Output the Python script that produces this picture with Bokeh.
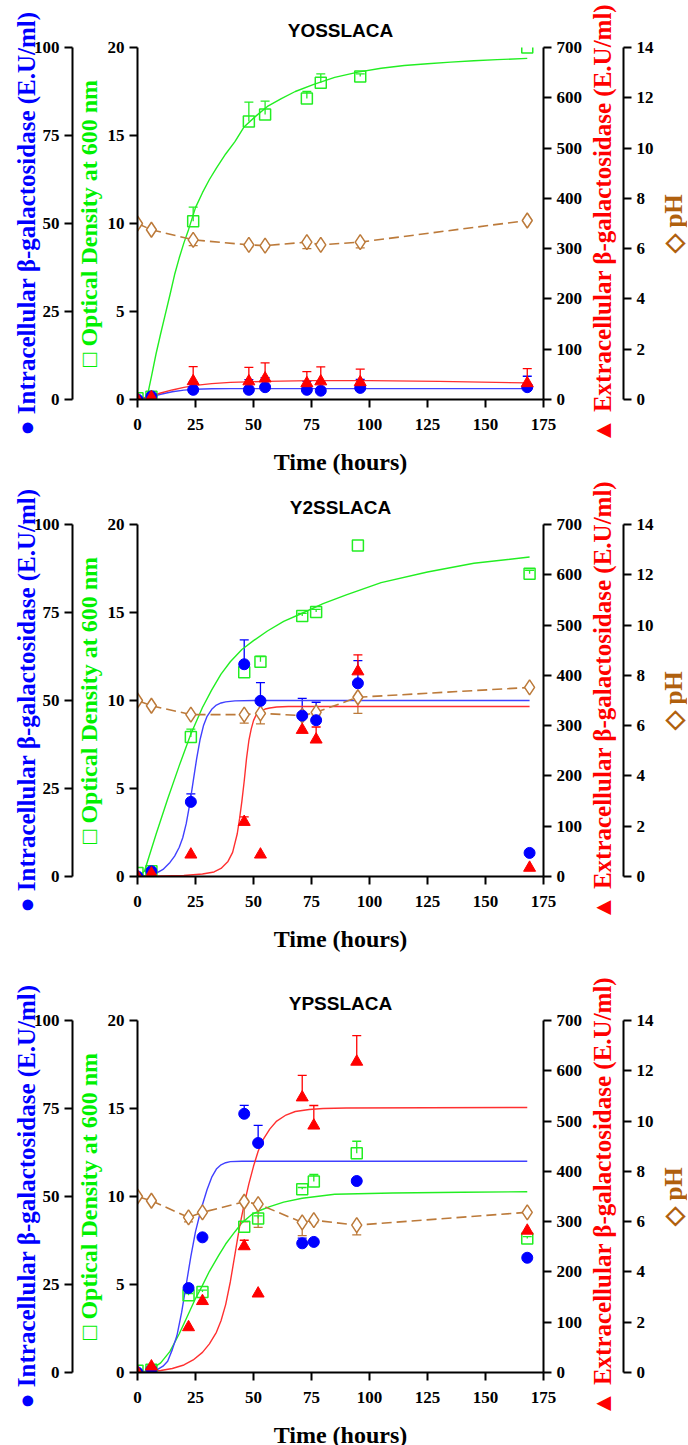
from bokeh.plotting import figure
from bokeh.models import Range1d, LinearAxis, FixedTicker, Whisker, TeeHead, ColumnDataSource
from bokeh.layouts import column, row
from bokeh.embed import file_html
from bokeh.resources import INLINE

# ---------------- YOSSLACA ----------------
time_1 = [0, 6, 24, 48, 55, 73, 79, 96, 168]
intra_1 = [0, 0.9, 2.75, 2.75, 3.5, 2.75, 2.5, 3.3, 3.5]
intra_err_1 = [0, 0, 2.2, 2.9, 2.7, 2.4, 2.5, 2.4, 3.1]
od_1 = [0.07, 0.15, 10.13, 15.8, 16.2, 17.1, 18.0, 18.35, 20.0]
od_err_1 = [0, 0, 0.8, 1.1, 0.75, 0.4, 0.5, 0.15, 0]
extra_1 = [0, 4.6, 36.4, 36, 41.8, 32.4, 36, 34.4, 32.4]
extra_err_1 = [0, 0, 29, 28, 31, 23, 29, 26, 29]
ph_1 = [7.0, 6.75, 6.35, 6.15, 6.12, 6.26, 6.15, 6.26, 7.12]
ph_err_1 = [0, 0, 0.23, 0.08, 0.08, 0.26, 0.05, 0.23, 0]

fit_od_t_1 = [0, 4, 6, 8, 10, 12, 14, 16, 18, 20, 22, 25, 28, 31, 34, 38, 42, 46, 51, 56,
              62, 68, 76, 85, 95, 105, 115, 125, 135, 145, 155, 168]
fit_od_1 = [0, 0.05, 1.3, 2.6, 3.75, 4.85, 5.95, 7.1, 8.05, 8.9, 9.65, 10.9, 11.75, 12.5,
            13.15, 13.95, 14.65, 15.5, 16.1, 16.65, 17.1, 17.5, 17.9, 18.3, 18.6, 18.82,
            18.98, 19.08, 19.17, 19.25, 19.31, 19.38]
fit_intra_t_1 = [0, 5, 10, 15, 20, 25, 32, 40, 168]
fit_intra_1 = [0, 0.6, 1.5, 2.2, 2.65, 2.9, 3.05, 3.1, 3.1]
fit_extra_t_1 = [0, 5, 10, 15, 20, 25, 32, 40, 55, 75, 100, 130, 168]
fit_extra_1 = [0, 6, 13, 19, 24, 28, 31.5, 34, 36, 37.5, 37.5, 36, 33]

# ---------------- Y2SSLACA ----------------
time_2 = [0, 6, 23, 46, 53, 71, 77, 95, 169]
intra_2 = [0, 1.5, 21.2, 60.3, 49.9, 45.7, 44.4, 54.9, 6.7]
intra_err_2 = [0, 0, 2.3, 6.9, 5.2, 4.9, 5.1, 6.4, 0]
od_2 = [0.2, 0.3, 7.92, 11.6, 12.2, 14.8, 15.03, 18.8, 17.2]
od_err_2 = [0, 0, 0.45, 0, 0.3, 0.15, 0.15, 0, 0.2]
extra_2 = [0, 6, 43.6, 108.5, 43.6, 291.5, 272.3, 407.9, 17.3]
extra_err_2 = [0, 0, 0, 10, 0, 0, 25, 33, 0]
ph_2 = [7.0, 6.79, 6.44, 6.44, 6.49, 6.4, 6.53, 7.13, 7.52]
ph_err_2 = [0, 0, 0, 0.34, 0.42, 0.1, 0.1, 0.64, 0]

fit_od_t_2 = [0, 3, 8, 13, 18, 23, 28, 32, 36, 40, 45, 50, 56, 63, 70, 80, 90, 105, 125, 145, 169]
fit_od_2 = [0, 0.3, 2.4, 4.4, 6.3, 8.1, 9.6, 10.6, 11.5, 12.2, 12.9, 13.4, 13.95, 14.5,
            14.9, 15.5, 16.0, 16.7, 17.3, 17.8, 18.15]
fit_intra_t_2 = [0, 5, 8, 11, 14, 16, 18, 19.5, 21, 22.5, 24, 25.5, 27, 28.5, 30, 32, 34, 36,
                 38, 42, 50, 169]
fit_intra_2 = [0, 0.3, 0.9, 2.0, 4.0, 5.8, 8.3, 11.0, 15.0, 20.5, 27, 33.5, 39, 43, 45.5,
               47.5, 48.7, 49.3, 49.6, 49.9, 50, 50]
fit_extra_t_2 = [0, 20, 28, 33, 36, 39, 41, 43, 44, 45, 46, 47, 48, 49, 50, 51, 53, 55, 57,
                 60, 65, 70, 169]
fit_extra_2 = [0, 2, 5, 9, 16, 30, 48, 85, 115, 150, 190, 235, 270, 293, 310, 320, 329, 333,
               335, 337, 338, 338, 338]

# ---------------- YPSSLACA ----------------
time_3 = [0, 6, 22, 28, 46, 52, 71, 76, 94.5, 168]
intra_3 = [0, 0.8, 24.0, 38.4, 73.5, 65.2, 36.7, 37.1, 54.4, 32.6]
intra_err_3 = [0, 0, 0, 0, 2.4, 5.0, 1.5, 0, 0, 0]
od_3 = [0.1, 0.15, 4.39, 4.58, 8.28, 8.75, 10.41, 10.85, 12.46, 7.62]
od_err_3 = [0, 0, 0.1, 0.1, 0, 0.15, 0.1, 0.4, 0.68, 0.1]
extra_3 = [0, 12, 90, 142, 251, 157, 547, 491, 618, 282]
extra_err_3 = [0, 0, 0, 0, 12, 0, 44, 40, 52, 0]
ph_3 = [7.0, 6.83, 6.17, 6.37, 6.79, 6.7, 5.97, 6.06, 5.86, 6.37]
ph_err_3 = [0, 0, 0.18, 0.05, 0.8, 0.93, 0.53, 0.1, 0.39, 0]

fit_od_t_3 = [0, 5, 10, 14, 18, 21, 25, 28, 31, 35, 38, 42, 45, 49, 53, 57, 63, 71, 85,
              110, 140, 168]
fit_od_3 = [0, 0.1, 0.55, 1.2, 2.2, 3.05, 4.2, 4.95, 5.75, 6.65, 7.3, 8.0, 8.5, 8.95, 9.22,
            9.42, 9.68, 9.9, 10.13, 10.2, 10.24, 10.27]
fit_intra_t_3 = [0, 5, 8, 11, 13, 15, 17, 19, 21, 23, 25, 27.5, 30, 32, 34, 36, 38, 40, 45, 168]
fit_intra_3 = [0, 0.2, 0.6, 1.8, 3.2, 6.5, 10.5, 17, 25, 33, 40, 46.6, 52, 55.5, 57.8, 59.0,
               59.6, 59.9, 60, 60]
fit_extra_t_3 = [0, 5, 10, 15, 20, 24, 28, 31, 34, 36, 38, 40, 42, 44, 46, 48, 50, 52, 54,
                 57, 60, 64, 68, 74, 80, 90, 168]
fit_extra_3 = [0, 1, 4, 8, 15, 25, 40, 57, 80, 103, 135, 180, 235, 290, 335, 375, 410, 440,
               462, 484, 500, 512, 519, 523, 525, 526, 527]

x_ticks = [0, 25, 50, 75, 100, 125, 150, 175]
od_ticks = [0, 5, 10, 15, 20]
intra_ticks = [0, 25, 50, 75, 100]
extra_ticks = [0, 100, 200, 300, 400, 500, 600, 700]
ph_ticks = [0, 2, 4, 6, 8, 10, 12, 14]

BLUE = "#0000FF"
BLUE_LINE = "#4040FF"
GREEN = "#22EE22"
GREEN_LABEL = "#00F000"
RED = "#FF0000"
RED_LINE = "#FF3030"
BROWN = "#BC7A3A"
BROWN_LABEL = "#B0600E"

SERIF = "Liberation Serif"
FRAME_LEFT, FRAME_TOP, FRAME_W, FRAME_H = 137, 47, 406, 352
PH_AXIS_X = 620      # x of the pH axis line
PH_TITLE_X = 680     # right edge of the pH title box


def style_axis(ax, label_color):
    ax.axis_line_width = 2
    ax.axis_line_color = "black"
    ax.major_tick_line_width = 2
    ax.major_tick_line_color = "black"
    ax.major_tick_out = 8
    ax.major_tick_in = 0
    ax.minor_tick_out = 0
    ax.minor_tick_in = 0
    ax.major_label_text_font = SERIF
    ax.major_label_text_font_style = "bold"
    ax.major_label_text_font_size = "17px"
    ax.major_label_text_color = "black"
    ax.major_label_standoff = 5
    ax.axis_label_text_font = SERIF
    ax.axis_label_text_font_style = "bold"
    ax.axis_label_text_font_size = "24px"
    ax.axis_label_text_color = label_color


def title_axis(text, color, size, standoff):
    """Rule-less left axis carrying only a bottom-to-top title."""
    ax = LinearAxis(ticker=FixedTicker(ticks=[]), axis_line_color=None,
                    major_tick_out=0, major_tick_in=0, minor_tick_out=0, minor_tick_in=0)
    ax.axis_label = text
    ax.axis_label_standoff = standoff
    ax.axis_label_text_font = SERIF
    ax.axis_label_text_font_style = "bold"
    ax.axis_label_text_font_size = size
    ax.axis_label_text_color = color
    return ax


def strip(bottom, left, y_max):
    """Narrow figure sharing the vertical frame geometry of the main plot."""
    f = figure(frame_width=1, frame_height=FRAME_H,
               x_range=Range1d(0, 1), y_range=Range1d(0, y_max),
               x_axis_location=None, y_axis_location=None,
               min_border_left=left, min_border_right=0,
               min_border_top=FRAME_TOP, min_border_bottom=bottom,
               output_backend="svg", toolbar_location=None,
               background_fill_color="white", border_fill_color="white")
    f.outline_line_color = None
    f.grid.visible = False
    return f


def error_bars(p, t, v, e, color, rng, upward=True):
    idx = [i for i in range(len(t)) if e[i] > 0]
    if not idx:
        return
    xs = [t[i] for i in idx]
    if upward:
        lo = [v[i] for i in idx]
        hi = [v[i] + e[i] for i in idx]
    else:
        lo = [v[i] - e[i] for i in idx]
        hi = [v[i] for i in idx]
    src = ColumnDataSource(dict(x=xs, lo=lo, hi=hi))
    head = TeeHead(size=9, line_color=color, line_width=1.3)
    w = Whisker(source=src, base="x", lower="lo", upper="hi", dimension="height",
                line_color=color, line_width=1.3,
                upper_head=head if upward else None,
                lower_head=None if upward else head,
                y_range_name=rng)
    p.add_layout(w)


def panel(title, t, intra, intra_err, od, od_err, extra, extra_err, ph, ph_err,
          fod_t, fod, fin_t, fin, fex_t, fex, bottom):
    p = figure(frame_width=FRAME_W, frame_height=FRAME_H,
               x_range=Range1d(0, 175), y_range=Range1d(0, 20),
               min_border_left=FRAME_LEFT, min_border_right=0,
               min_border_top=FRAME_TOP, min_border_bottom=bottom,
               output_backend="svg", toolbar_location=None,
               background_fill_color="white", border_fill_color="white")
    p.outline_line_color = None
    p.xgrid.visible = False
    p.ygrid.visible = False
    p.extra_y_ranges = {"intra": Range1d(0, 100), "extra": Range1d(0, 700),
                        "ph": Range1d(0, 14)}

    p.title.text = title
    p.title.align = "center"
    p.title.text_font = "Liberation Sans"
    p.title.text_font_size = "19px"
    p.title.text_font_style = "bold"
    p.title.text_color = "black"
    p.title.standoff = 14

    xa = p.xaxis[0]
    xa.ticker = FixedTicker(ticks=x_ticks)
    style_axis(xa, "black")
    xa.major_label_standoff = 11
    xa.axis_label = "Time (hours)"
    xa.axis_label_standoff = 16

    ya = p.yaxis[0]
    ya.ticker = FixedTicker(ticks=od_ticks)
    style_axis(ya, GREEN_LABEL)
    ya.axis_label = "\u25a1 Optical Density at 600 nm"
    ya.axis_label_standoff = 3

    ia = LinearAxis(y_range_name="intra", ticker=FixedTicker(ticks=intra_ticks))
    style_axis(ia, BLUE)
    ia.axis_label = "\u25cf Intracellular \u03b2-galactosidase (E.U/ml)"
    ia.axis_label_text_font_size = "25px"
    ia.axis_label_standoff = -9
    p.add_layout(ia, "left")

    ea = LinearAxis(y_range_name="extra", ticker=FixedTicker(ticks=extra_ticks))
    style_axis(ea, RED)
    p.add_layout(ea, "right")

    # fitted curves
    p.line(fod_t, fod, line_color=GREEN, line_width=1.4)
    p.line(fin_t, fin, line_color=BLUE_LINE, line_width=1.4, y_range_name="intra")
    p.line(fex_t, fex, line_color=RED_LINE, line_width=1.4, y_range_name="extra")

    # pH profile
    p.line(t, ph, line_color=BROWN, line_width=1.6, line_dash="10 5", y_range_name="ph")
    error_bars(p, t, ph, ph_err, BROWN, "ph", upward=False)
    p.scatter(t, ph, marker="diamond", size=15, fill_color="white",
              line_color=BROWN, line_width=1.5, y_range_name="ph")

    # measurements
    error_bars(p, t, od, od_err, GREEN, "default")
    p.scatter(t, od, marker="square", size=11, fill_color=None,
              line_color=GREEN, line_width=1.5)
    error_bars(p, t, intra, intra_err, BLUE, "intra")
    p.scatter(t, intra, marker="circle", size=11, fill_color=BLUE,
              line_color=BLUE, y_range_name="intra")
    error_bars(p, t, extra, extra_err, RED, "extra")
    p.scatter(t, extra, marker="triangle", size=12, fill_color=RED,
              line_color=RED, y_range_name="extra")

    # width of the main figure: frame plus the extracellular axis panel
    main_w = FRAME_LEFT + FRAME_W + 39

    # strip 1: extracellular title on its left, pH scale on its right
    s1_left = PH_AXIS_X - main_w - 1
    s1 = strip(bottom, s1_left, 14)
    s1.add_layout(title_axis("\u25b2 Extracellular \u03b2-galactosidase (E.U/ml)",
                             RED, "25px", 7), "left")
    pa = LinearAxis(ticker=FixedTicker(ticks=ph_ticks))
    style_axis(pa, BROWN_LABEL)
    s1.add_layout(pa, "right")

    # strip 2: pH title
    s1_w = s1_left + 1 + 30
    s2 = strip(bottom, PH_TITLE_X - main_w - s1_w, 14)
    s2.add_layout(title_axis("\u25c7 pH", BROWN_LABEL, "25px", 0), "left")

    return row(p, s1, s2, spacing=0)


r1 = panel("YOSSLACA", time_1, intra_1, intra_err_1, od_1, od_err_1, extra_1, extra_err_1,
           ph_1, ph_err_1, fit_od_t_1, fit_od_1, fit_intra_t_1, fit_intra_1,
           fit_extra_t_1, fit_extra_1, 74)
r2 = panel("Y2SSLACA", time_2, intra_2, intra_err_2, od_2, od_err_2, extra_2, extra_err_2,
           ph_2, ph_err_2, fit_od_t_2, fit_od_2, fit_intra_t_2, fit_intra_2,
           fit_extra_t_2, fit_extra_2, 97)
r3 = panel("YPSSLACA", time_3, intra_3, intra_err_3, od_3, od_err_3, extra_3, extra_err_3,
           ph_3, ph_err_3, fit_od_t_3, fit_od_3, fit_intra_t_3, fit_intra_3,
           fit_extra_t_3, fit_extra_3, 77)

layout = column(r1, r2, r3, spacing=0)
open("out.html", "w").write(file_html(layout, INLINE))
